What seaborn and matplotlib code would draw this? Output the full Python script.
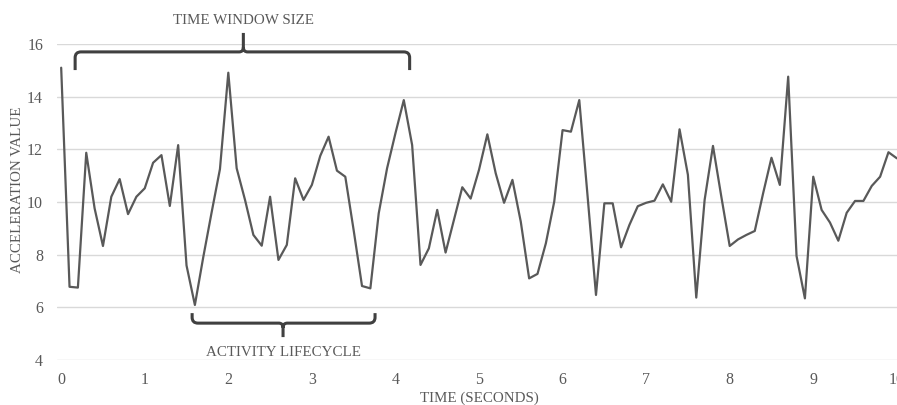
import numpy as np
import pandas as pd
import seaborn as sns
import matplotlib
matplotlib.use("Agg")
import matplotlib.pyplot as plt
from matplotlib.path import Path
from matplotlib.patches import PathPatch

# ---- data ----
time_s = np.round(np.linspace(0, 10, 101), 1)
acceleration = [
    15.1, 6.78, 6.75, 11.87, 9.76, 8.33, 10.2, 10.87, 9.54, 10.2,
    10.52, 11.49, 11.78, 9.85, 12.16, 7.59, 6.09, 7.9, 9.6, 11.25,
    14.91, 11.28, 10.08, 8.75, 8.34, 10.2, 7.8, 8.37, 10.9, 10.08,
    10.65, 11.75, 12.48, 11.19, 10.96, 8.93, 6.81, 6.72, 9.57, 11.28,
    12.61, 13.87, 12.16, 7.61, 8.24, 9.7, 8.08, 9.32, 10.56, 10.13,
    11.22, 12.57, 11.09, 9.97, 10.84, 9.25, 7.1, 7.27, 8.43, 10.01,
    12.73, 12.67, 13.87, 10.2, 6.47, 9.95, 9.95, 8.28, 9.13, 9.84,
    9.97, 10.05, 10.67, 10.01, 12.76, 11.03, 6.37, 10.08, 12.13, 10.2,
    8.33, 8.58, 8.75, 8.9, 10.33, 11.68, 10.65, 14.76, 7.95, 6.34,
    10.96, 9.7, 9.22, 8.53, 9.59, 10.04, 10.04, 10.61, 10.96, 11.89,
    11.66,
]
x_ticks = [0, 1, 2, 3, 4, 5, 6, 7, 8, 9, 10]
y_ticks = [4, 6, 8, 10, 12, 14, 16]
x_label = "TIME (SECONDS)"
y_label = "ACCELERATION VALUE"
top_note = "TIME WINDOW SIZE"
bottom_note = "ACTIVITY LIFECYCLE"

df = pd.DataFrame({"time": time_s, "acc": acceleration})

sns.set_theme(style="white")
plt.rcParams["font.family"] = ["Liberation Serif", "DejaVu Serif"]

W, H = 897, 405
fig = plt.figure(figsize=(W / 100, H / 100), dpi=100)
# axes pixel box: left 57, right ~901, top 44, bottom 360
AX_L, AX_R, AX_T, AX_B = 57, 901, 44, 360
ax = fig.add_axes([AX_L / W, (H - AX_B) / H, (AX_R - AX_L) / W, (AX_B - AX_T) / H])

sns.lineplot(data=df, x="time", y="acc", ax=ax, color="#595959", linewidth=1.6)

ax.set_xlim(-0.05, 10.05)
ax.set_ylim(4, 16)
ax.set_xticks(x_ticks)
ax.set_yticks(y_ticks)
ax.grid(axis="y", color="#d9d9d9", linewidth=1.0)
ax.set_axisbelow(True)
for s in ax.spines.values():
    s.set_visible(False)
ax.tick_params(axis="both", length=0, labelsize=11.5, labelcolor="#595959")
ax.tick_params(axis="y", pad=10)
ax.tick_params(axis="x", pad=8.5)

ax.set_xlabel(x_label, fontsize=10.8, color="#595959")
ax.set_ylabel(y_label, fontsize=10.8, color="#595959")
ax.xaxis.set_label_coords((479 - AX_L) / (AX_R - AX_L), -(392 - AX_B) / (AX_B - AX_T))
ax.yaxis.set_label_coords(-(AX_L - 24) / (AX_R - AX_L), (AX_B - 190) / (AX_B - AX_T))


def brace(x0, x1, xm, y_end, y_h, y_tip, rx=0.07, ry=0.22, sx=0.05, sy=0.18):
    d = 1 if y_tip > y_h else -1  # direction of tip
    verts = [
        (x0, y_end), (x0, y_h - d * ry),
        (x0, y_h), (x0 + rx, y_h),
        (xm - sx, y_h),
        (xm, y_h), (xm, y_h + d * sy),
        (xm, y_tip),
        (xm, y_h + d * sy),
        (xm, y_h), (xm + sx, y_h),
        (x1 - rx, y_h),
        (x1, y_h), (x1, y_h - d * ry),
        (x1, y_end),
    ]
    codes = [
        Path.MOVETO, Path.LINETO,
        Path.CURVE3, Path.CURVE3,
        Path.LINETO,
        Path.CURVE3, Path.CURVE3,
        Path.LINETO,
        Path.MOVETO,
        Path.CURVE3, Path.CURVE3,
        Path.LINETO,
        Path.CURVE3, Path.CURVE3,
        Path.LINETO,
    ]
    p = PathPatch(Path(verts, codes), facecolor="none", edgecolor="#404040",
                  linewidth=2.2, clip_on=False, capstyle="butt", joinstyle="round")
    ax.add_patch(p)


brace(0.167, 4.17, 2.18, 15.01, 15.70, 16.42)
brace(1.567, 3.756, 2.655, 5.78, 5.40, 4.87)

ax.text(2.18, 16.91, top_note, ha="center", va="center", fontsize=10.8,
        color="#595959", clip_on=False)
ax.text(2.655, 4.30, bottom_note, ha="center", va="center", fontsize=10.8,
        color="#595959", clip_on=False)

fig.savefig("out.png", dpi=100)
